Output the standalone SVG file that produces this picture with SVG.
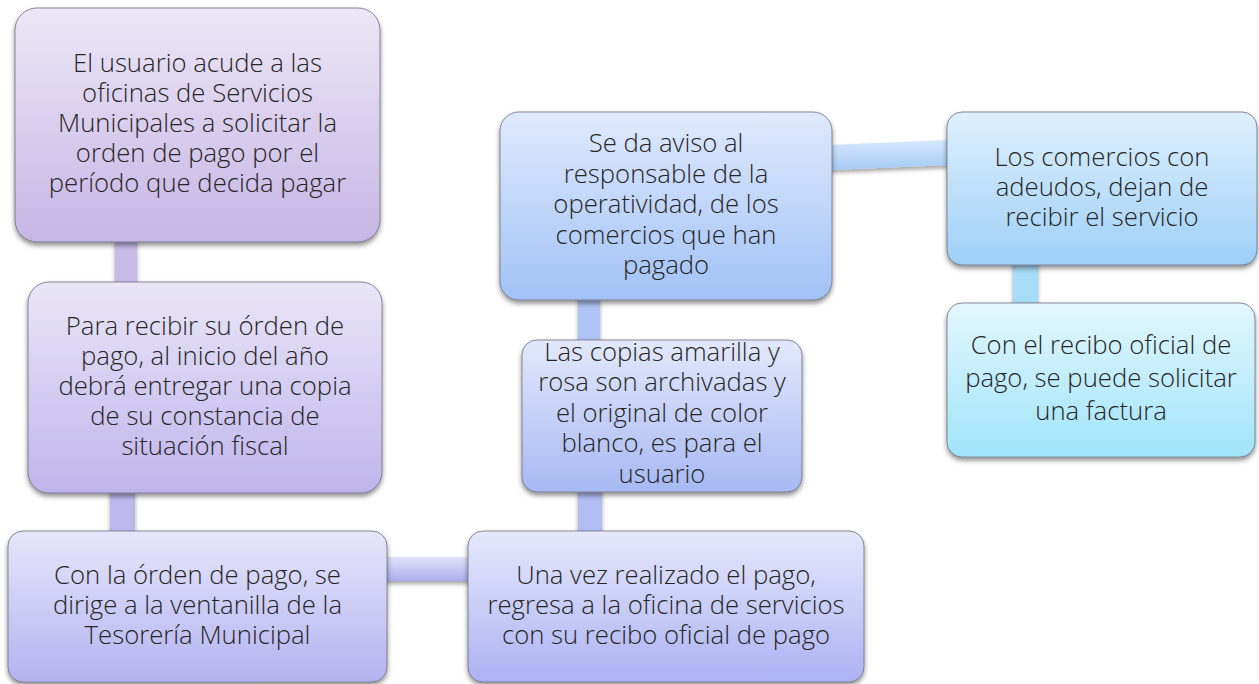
<svg xmlns="http://www.w3.org/2000/svg" width="1259" height="684" viewBox="0 0 1259 684">
<style>
  .box { stroke: #6e6e80; stroke-width: 1; stroke-opacity: 0.8; filter: url(#sh); }
  .con { filter: url(#shc); }
  text { font-family: "Open Sans", "Liberation Sans", sans-serif; font-weight: 300; font-size: 25.7px; fill: #262626; text-anchor: middle; }
</style>
<defs>
  <filter id="sh" x="-10%" y="-10%" width="120%" height="125%">
    <feDropShadow dx="0" dy="3" stdDeviation="2.5" flood-color="#000" flood-opacity="0.45"/>
  </filter>
  <filter id="shc" x="-20%" y="-20%" width="140%" height="160%">
    <feDropShadow dx="0" dy="3" stdDeviation="2" flood-color="#000" flood-opacity="0.35"/>
  </filter>
  <linearGradient id="g1" x1="0" y1="0" x2="0" y2="1"><stop offset="0" stop-color="#ede7f7"/><stop offset="1" stop-color="#c6b6e5"/></linearGradient>
  <linearGradient id="g2" x1="0" y1="0" x2="0" y2="1"><stop offset="0" stop-color="#eae6f8"/><stop offset="1" stop-color="#bfb5ec"/></linearGradient>
  <linearGradient id="g3" x1="0" y1="0" x2="0" y2="1"><stop offset="0" stop-color="#e7e6fa"/><stop offset="1" stop-color="#b4b3f1"/></linearGradient>
  <linearGradient id="g4" x1="0" y1="0" x2="0" y2="1"><stop offset="0" stop-color="#e6e8fb"/><stop offset="1" stop-color="#acb3f3"/></linearGradient>
  <linearGradient id="g5" x1="0" y1="0" x2="0" y2="1"><stop offset="0" stop-color="#e3e9fb"/><stop offset="1" stop-color="#a7b9f3"/></linearGradient>
  <linearGradient id="g6" x1="0" y1="0" x2="0" y2="1"><stop offset="0" stop-color="#dfeafc"/><stop offset="1" stop-color="#a2c2f7"/></linearGradient>
  <linearGradient id="g7" x1="0" y1="0" x2="0" y2="1"><stop offset="0" stop-color="#dff0fd"/><stop offset="1" stop-color="#9ed0f8"/></linearGradient>
  <linearGradient id="g8" x1="0" y1="0" x2="0" y2="1"><stop offset="0" stop-color="#e3f7fe"/><stop offset="1" stop-color="#a0e4f9"/></linearGradient>
  <linearGradient id="ch1" x1="0" y1="0" x2="0" y2="1"><stop offset="0" stop-color="#e2e2fb"/><stop offset="1" stop-color="#aeaef0"/></linearGradient>
  <linearGradient id="ch2" x1="0" y1="0" x2="0" y2="1"><stop offset="0" stop-color="#d6e8fc"/><stop offset="1" stop-color="#a6cbf6"/></linearGradient>
</defs>

<g id="connectors">
  <rect class="con" x="115" y="238" width="22" height="48" fill="#c8bbe9"/>
  <rect class="con" x="110" y="489" width="25" height="46" fill="#bfb8ee"/>
  <rect class="con" x="383" y="557" width="89" height="24" fill="url(#ch1)"/>
  <rect class="con" x="578" y="488" width="24" height="47" fill="#b2bdf4"/>
  <rect class="con" x="578" y="296" width="22" height="48" fill="#aec3f6"/>
  <polygon class="con" points="828,145 951,140 951,165 828,170" fill="url(#ch2)"/>
  <rect class="con" x="1013" y="261" width="25" height="46" fill="#a7ddf8"/>
</g>

<g id="n1">
  <rect class="box" x="15" y="8" width="365" height="234" rx="22" fill="url(#g1)"/>
  <text x="197.5" y="72"><tspan x="197.5">El usuario acude a las</tspan><tspan x="197.5" dy="30">oficinas de Servicios</tspan><tspan x="197.5" dy="30">Municipales a solicitar la</tspan><tspan x="197.5" dy="30">orden de pago por el</tspan><tspan x="197.5" dy="30">período que decida pagar</tspan></text>
</g>

<g id="n2">
  <rect class="box" x="28" y="282" width="354" height="211" rx="21" fill="url(#g2)"/>
  <text x="205" y="334.5"><tspan x="205">Para recibir su órden de</tspan><tspan x="205" dy="30">pago, al inicio del año</tspan><tspan x="205" dy="30">debrá entregar una copia</tspan><tspan x="205" dy="30">de su constancia de</tspan><tspan x="205" dy="30">situación fiscal</tspan></text>
</g>

<g id="n3">
  <rect class="box" x="8" y="531" width="379" height="151" rx="15" fill="url(#g3)"/>
  <text x="197.5" y="584"><tspan x="197.5">Con la órden de pago, se</tspan><tspan x="197.5" dy="30">dirige a la ventanilla de la</tspan><tspan x="197.5" dy="30">Tesorería Municipal</tspan></text>
</g>

<g id="n4">
  <rect class="box" x="468" y="531" width="396" height="151" rx="15" fill="url(#g4)"/>
  <text x="666" y="584"><tspan x="666">Una vez realizado el pago,</tspan><tspan x="666" dy="30">regresa a la oficina de servicios</tspan><tspan x="666" dy="30">con su recibo oficial de pago</tspan></text>
</g>

<g id="n5">
  <rect class="box" x="522" y="340" width="280" height="152" rx="15" fill="url(#g5)"/>
  <text x="662" y="360.5"><tspan x="662">Las copias amarilla y</tspan><tspan x="662" dy="30.5">rosa son archivadas y</tspan><tspan x="662" dy="30.5">el original de color</tspan><tspan x="662" dy="30.5">blanco, es para el</tspan><tspan x="662" dy="30.5">usuario</tspan></text>
</g>

<g id="n6">
  <rect class="box" x="500" y="112" width="332" height="188" rx="19" fill="url(#g6)"/>
  <text x="666" y="152"><tspan x="666">Se da aviso al</tspan><tspan x="666" dy="30.5">responsable de la</tspan><tspan x="666" dy="30.5">operatividad, de los</tspan><tspan x="666" dy="30.5">comercios que han</tspan><tspan x="666" dy="30.5">pagado</tspan></text>
</g>

<g id="n7">
  <rect class="box" x="947" y="112" width="310" height="153" rx="15" fill="url(#g7)"/>
  <text x="1102" y="165.5"><tspan x="1102">Los comercios con</tspan><tspan x="1102" dy="30">adeudos, dejan de</tspan><tspan x="1102" dy="30">recibir el servicio</tspan></text>
</g>

<g id="n8">
  <rect class="box" x="947" y="303" width="308" height="154" rx="15" fill="url(#g8)"/>
  <text x="1101" y="354"><tspan x="1101">Con el recibo oficial de</tspan><tspan x="1101" dy="33">pago, se puede solicitar</tspan><tspan x="1101" dy="32.5">una factura</tspan></text>
</g>
</svg>
